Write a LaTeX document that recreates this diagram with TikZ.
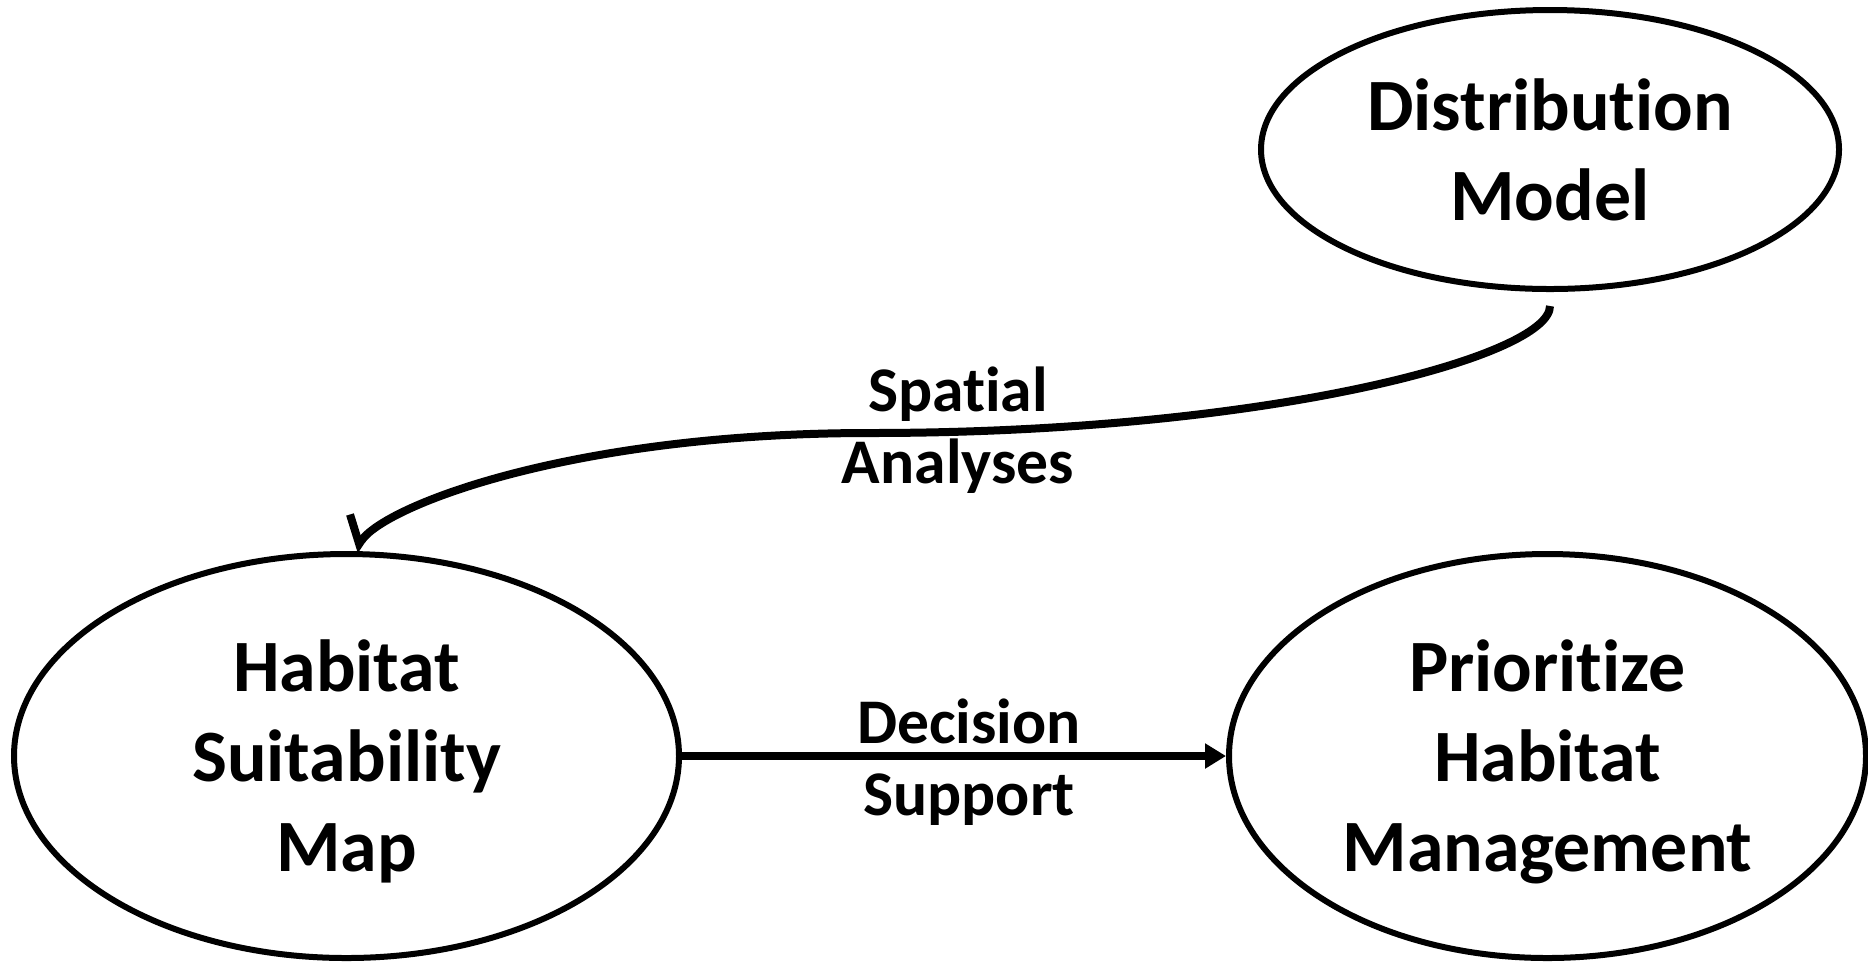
\documentclass[tikz,border=0pt]{standalone}
\usepackage{fontspec}
\setmainfont{Carlito}[Ligatures={NoCommon,NoContextual}]
\usetikzlibrary{shapes.geometric, arrows.meta, calc, positioning}
\tikzstyle{bubble} = [ellipse, line width=0.12cm, draw=black, inner sep=0pt, align=center, text depth=0pt, font=\fontsize{42}{51.2}\selectfont\bfseries]
\tikzstyle{linktext} = [align=center, inner sep=0pt, font=\fontsize{36.2}{40.6}\selectfont\bfseries]
\tikzstyle{arrow} = [line width=0.16cm, -{Triangle[length=0.42cm, width=0.48cm]}]
\tikzstyle{curvearrow} = [line width=0.16cm, -{Straight Barb[right, length=0.39cm, width=0.96cm]}]

\begin{document}
\begin{tikzpicture}
	\useasboundingbox (0,0) rectangle (37.36,-19.24);
	\node (Habitat) [bubble, minimum width=13.3cm, minimum height=8.08cm] at (6.93,-15.12) {Habitat\\Suitability\\Map};
	\node (Prioritize) [bubble, minimum width=12.74cm, minimum height=8.08cm, right = 10.88cm of Habitat] {Prioritize\\Habitat\\Management};
	\node (Distribution) [bubble, minimum width=11.56cm, minimum height=5.58cm, above = 5.18cm of Prioritize, xshift=0.05cm] {Distribution\\Model};
	\coordinate (SpatialTail) at ([yshift=-0.28cm]Distribution.south);
	\coordinate (SpatialBend) at (17.4,-8.66);
	\coordinate (SpatialHead) at ([xshift=0.16cm]Habitat.north);
	\node (SpatialLabel) [linktext] at (19.16,-8.6) {Spatial\\Analyses};
	\node (DecisionLabel) [linktext] at (19.38,-15.24) {Decision\\Support};
	\draw [curvearrow] (SpatialTail) .. controls +(0,-1) and +(8,0) .. (SpatialBend) .. controls +(-6,0) and +(0.6,0.9) .. (SpatialHead);
	\draw [arrow] (Habitat) -- (Prioritize);
\end{tikzpicture}
\end{document}
